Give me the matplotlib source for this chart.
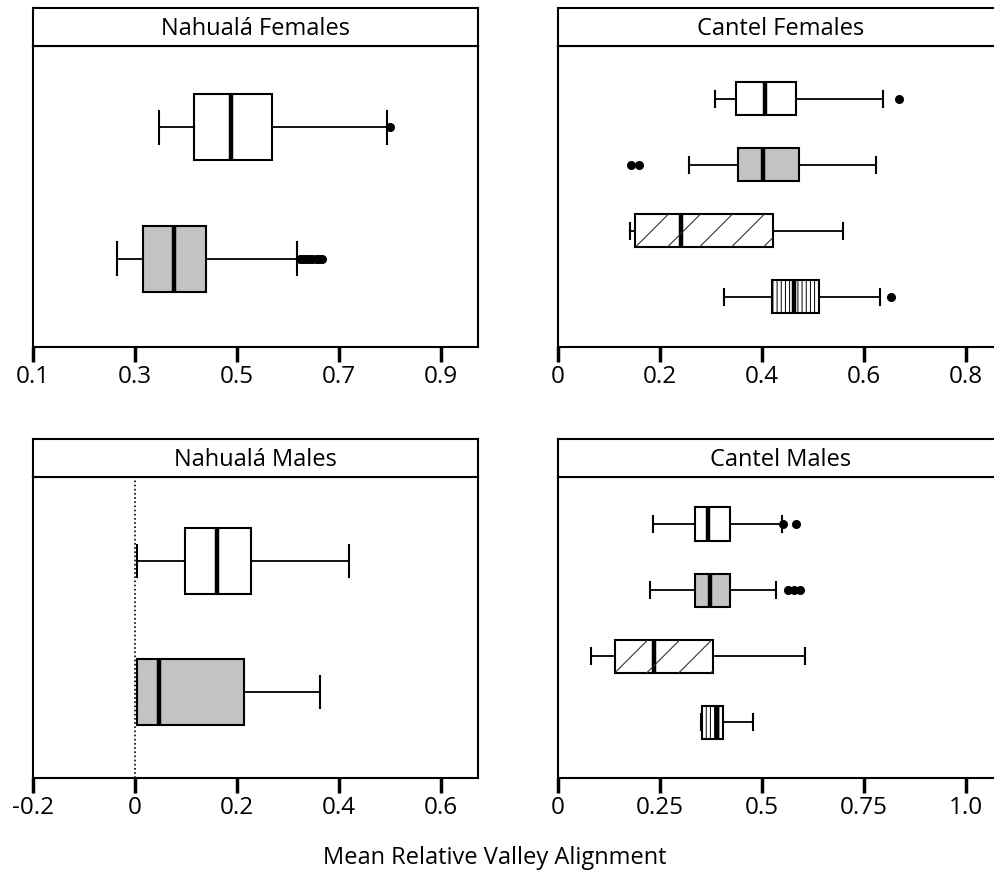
import numpy as np
import matplotlib.pyplot as plt

plt.rcParams['font.family'] = ['Open Sans', 'DejaVu Sans']
plt.rcParams['hatch.linewidth'] = 0.7

# Nahuala Females (rows top to bottom)
nf_lo = [0.347, 0.265]
nf_q1 = [0.416, 0.316]
nf_med = [0.488, 0.377]
nf_q3 = [0.568, 0.439]
nf_hi = [0.795, 0.618]
nf_out = [[0.799], [0.624, 0.630, 0.636, 0.642, 0.648, 0.654, 0.660, 0.666]]

# Cantel Females
cf_lo = [0.308, 0.257, 0.141, 0.325]
cf_q1 = [0.349, 0.353, 0.151, 0.420]
cf_med = [0.406, 0.402, 0.241, 0.462]
cf_q3 = [0.467, 0.472, 0.421, 0.512]
cf_hi = [0.637, 0.624, 0.559, 0.632]
cf_out = [[0.669], [0.143, 0.158], [], [0.653]]

# Nahuala Males
nm_lo = [0.003, 0.003]
nm_q1 = [0.098, 0.003]
nm_med = [0.161, 0.047]
nm_q3 = [0.227, 0.214]
nm_hi = [0.420, 0.363]
nm_out = [[], []]

# Cantel Males
cm_lo = [0.233, 0.225, 0.081, 0.350]
cm_q1 = [0.336, 0.336, 0.140, 0.353]
cm_med = [0.368, 0.373, 0.235, 0.390]
cm_q3 = [0.422, 0.422, 0.380, 0.404]
cm_hi = [0.549, 0.534, 0.605, 0.478]
cm_out = [[0.551, 0.583], [0.564, 0.578, 0.593], [], []]

nf_ticks = [0.1, 0.3, 0.5, 0.7, 0.9]
nf_labels = ['0.1', '0.3', '0.5', '0.7', '0.9']
cf_ticks = [0, 0.2, 0.4, 0.6, 0.8]
cf_labels = ['0', '0.2', '0.4', '0.6', '0.8']
nm_ticks = [-0.2, 0, 0.2, 0.4, 0.6]
nm_labels = ['-0.2', '0', '0.2', '0.4', '0.6']
cm_ticks = [0, 0.25, 0.5, 0.75, 1.0]
cm_labels = ['0', '0.25', '0.5', '0.75', '1.0']

row_styles = ['white', 'gray', 'slash', 'vert']

W, H = 994, 880
fig = plt.figure(figsize=(W / 100, H / 100), dpi=100)


def slash_hatch(ax, patch, x0, x1, pos, halfw, step_px=32):
    # sparse 45-degree hatch lines, clipped to the box
    bb = ax.get_window_extent()
    xl = ax.get_xlim()
    yl = ax.get_ylim()
    sx = bb.width / (xl[1] - xl[0])
    sy = bb.height / abs(yl[1] - yl[0])
    dx = (2 * halfw * sy) / sx
    step = step_px / sx
    xs = x0 + step * np.arange(-int(dx / step) - 1, int((x1 - x0) / step) + 2)
    for xb in xs:
        ln, = ax.plot([xb, xb + dx], [pos + halfw, pos - halfw],
                      color='#333333', lw=0.8, zorder=2.5)
        ln.set_clip_path(patch)


def panel(px_left, px_top, title, lo, q1, med, q3, hi, out,
          xlim, ticks, labels, ylim, zero_line=False):
    w_px, h_px, strip_px = 445, 301, 38
    ax = fig.add_axes([px_left / W, 1 - (px_top + h_px) / H, w_px / W, h_px / H])
    st = fig.add_axes([px_left / W, 1 - px_top / H, w_px / W, strip_px / H])
    st.set_xticks([])
    st.set_yticks([])
    for s in st.spines.values():
        s.set_linewidth(1.5)
    st.text(0.5, 0.45, title, ha='center', va='center', fontsize=17,
            transform=st.transAxes)

    n = len(lo)
    stats = []
    for i in range(n):
        stats.append(dict(whislo=lo[i], q1=q1[i], med=med[i], q3=q3[i],
                          whishi=hi[i], fliers=np.array(out[i])))
    pos = list(range(n))
    bp = ax.bxp(stats, positions=pos, widths=0.5, capwidths=0.25,
                orientation='horizontal', patch_artist=True,
                boxprops=dict(edgecolor='black', linewidth=1.5),
                whiskerprops=dict(color='black', linewidth=1.3),
                capprops=dict(color='black', linewidth=1.5),
                medianprops=dict(color='black', linewidth=3.2),
                flierprops=dict(marker='o', markerfacecolor='black',
                                markeredgecolor='black', markersize=5.5))
    ax.set_xlim(*xlim)
    ax.set_ylim(*ylim)
    for i, b in enumerate(bp['boxes']):
        style = row_styles[i]
        b.set_facecolor('#c3c3c3' if style == 'gray' else 'white')
        if style == 'vert':
            b.set_hatch('||||')
        if style == 'slash':
            slash_hatch(ax, b, q1[i], q3[i], pos[i], 0.25)

    if zero_line:
        ax.axvline(0, color='black', lw=1.2, ls=(0, (1, 1.5)), zorder=1)

    ax.set_xticks(ticks)
    ax.set_xticklabels(labels)
    ax.set_yticks([])
    ax.tick_params(axis='x', direction='out', length=11, width=2.5,
                   labelsize=17.5, pad=2)
    for s in ax.spines.values():
        s.set_linewidth(1.5)
    return ax


panel(33, 46, 'Nahualá Females', nf_lo, nf_q1, nf_med, nf_q3, nf_hi, nf_out,
      (0.1, 0.9725), nf_ticks, nf_labels, (1.667, -0.614))
panel(558, 46, 'Cantel Females', cf_lo, cf_q1, cf_med, cf_q3, cf_hi, cf_out,
      (0.0, 0.8725), cf_ticks, cf_labels, (3.758, -0.803))
panel(33, 477, 'Nahualá Males', nm_lo, nm_q1, nm_med, nm_q3, nm_hi, nm_out,
      (-0.2, 0.6725), nm_ticks, nm_labels, (1.656, -0.641), zero_line=True)
panel(558, 477, 'Cantel Males', cm_lo, cm_q1, cm_med, cm_q3, cm_hi, cm_out,
      (0.0, 1.0906), cm_ticks, cm_labels, (3.848, -0.712))

fig.text(0.498, 1 - 858 / H, 'Mean Relative Valley Alignment', ha='center',
         va='center', fontsize=17)

fig.savefig('out.png', dpi=100)
